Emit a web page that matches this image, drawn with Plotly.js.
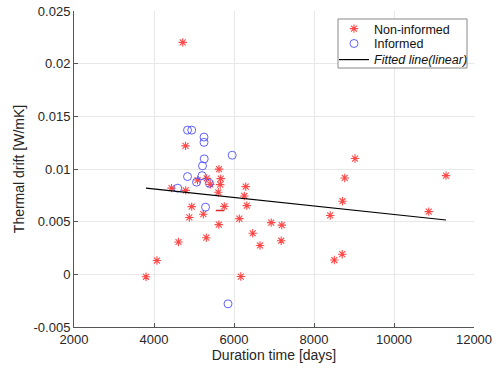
<!DOCTYPE html>
<html>
<head>
<meta charset="utf-8">
<script src="https://cdn.plot.ly/plotly-3.0.1.min.js"></script>
<style>html,body{margin:0;padding:0;background:#fff;}#chart{width:501px;height:371px;}</style>
</head>
<body>
<div id="chart"></div>
<script>
// Non-informed (red stars)
const nonInformedX = [3800, 4073, 4438, 4613, 4718, 4788, 4793, 4883, 4943, 5088, 5233, 5308, 5318, 5408, 5625, 5668, 5655, 5608, 5620, 5758, 6133, 6170, 6293, 6258, 6320, 6468, 6650, 6930, 7195, 7180, 8405, 8713, 8768, 8705, 8508, 9025, 10868, 11300];
const nonInformedY = [-0.00023, 0.00131, 0.00818, 0.00307, 0.02202, 0.01220, 0.00797, 0.00540, 0.00643, 0.00895, 0.00571, 0.00348, 0.00911, 0.00854, 0.00999, 0.00909, 0.00852, 0.00779, 0.00472, 0.00645, 0.00529, -0.00021, 0.00833, 0.00744, 0.00652, 0.00390, 0.00274, 0.00491, 0.00467, 0.00319, 0.00559, 0.00694, 0.00915, 0.00191, 0.00136, 0.01099, 0.00595, 0.00937];
// partially drawn marker (dash)
const dashX = [5650];
const dashY = [0.00606];
// Informed (blue circles)
const informedX = [4593, 4838, 4943, 5250, 5250, 5255, 5213, 5955, 4838, 5200, 5063, 5383, 5288, 5850];
const informedY = [0.00818, 0.01369, 0.01369, 0.01303, 0.01253, 0.01096, 0.01030, 0.01131, 0.00928, 0.00937, 0.00875, 0.00865, 0.00638, -0.00280];
// Fitted line (linear)
const fitX = [3800, 11300];
const fitY = [0.00818, 0.00516];

const xTickVals = [2000, 4000, 6000, 8000, 10000, 12000];
const xTickText = ['2000', '4000', '6000', '8000', '10000', '12000'];
const yTickVals = [-0.005, 0, 0.005, 0.01, 0.015, 0.02, 0.025];
const yTickText = ['-0.005', '0', '0.005', '0.01', '0.015', '0.02', '0.025'];

const FONT = 'Liberation Sans, Arial, sans-serif';

const traces = [
  {x: nonInformedX, y: nonInformedY, type: 'scatter', mode: 'markers', name: 'Non-informed', legend: 'legend',
   marker: {symbol: 'asterisk-open', size: 7, color: 'rgba(255,40,40,0.85)', line: {color: 'rgba(255,40,40,0.85)', width: 1.1}}},
  {x: informedX, y: informedY, type: 'scatter', mode: 'markers', name: 'Informed', legend: 'legend2',
   marker: {symbol: 'circle-open', size: 8, color: 'rgba(70,70,255,0.85)', line: {color: 'rgba(70,70,255,0.85)', width: 1}}},
  {x: fitX, y: fitY, type: 'scatter', mode: 'lines', name: '<i>Fitted line(linear)</i>', legend: 'legend3',
   line: {color: '#000', width: 1.2}},
  {x: dashX, y: dashY, type: 'scatter', mode: 'markers', showlegend: false, hoverinfo: 'skip',
   marker: {symbol: 'line-ew-open', size: 6, line: {color: 'rgba(255,30,30,0.95)', width: 1.5}}}
];

const axisCommon = {
  showline: true, linecolor: '#555', linewidth: 1, mirror: false,
  ticks: 'inside', ticklen: 4, tickcolor: '#555',
  showgrid: true, gridcolor: '#e8e8e8', gridwidth: 1, zeroline: false,
  tickfont: {family: FONT, size: 13, color: '#262626'}
};

function legendAt(yPaper) {
  return {
    x: 0.65, y: yPaper, xanchor: 'left', yanchor: 'middle',
    bgcolor: 'rgba(0,0,0,0)', borderwidth: 0,
    font: {family: FONT, size: 12.5, color: '#111'},
    itemwidth: 30
  };
}

const layout = {
  width: 501, height: 371,
  margin: {l: 74, r: 27, t: 11, b: 44},
  paper_bgcolor: '#fff', plot_bgcolor: '#fff',
  font: {family: FONT, color: '#262626'},
  xaxis: Object.assign({}, axisCommon, {
    range: [2000, 12000], tickmode: 'array', tickvals: xTickVals, ticktext: xTickText,
    title: {text: 'Duration time [days]', font: {size: 14, color: '#262626'}, standoff: 4}
  }),
  yaxis: Object.assign({}, axisCommon, {
    range: [-0.005, 0.025], tickmode: 'array', tickvals: yTickVals, ticktext: yTickText,
    title: {text: 'Thermal drift [W/mK]', font: {size: 14, color: '#262626'}, standoff: 5}
  }),
  showlegend: true,
  legend: legendAt(0.943),
  legend2: legendAt(0.896),
  legend3: legendAt(0.845),
  shapes: [{
    type: 'rect', xref: 'paper', yref: 'paper',
    x0: 0.66, x1: 0.9825, y0: 0.8196, y1: 0.9747,
    line: {color: '#888', width: 1}, fillcolor: '#fff', layer: 'above'
  }]
};

Plotly.newPlot('chart', traces, layout, {displayModeBar: false, staticPlot: true});
</script>
</body>
</html>
